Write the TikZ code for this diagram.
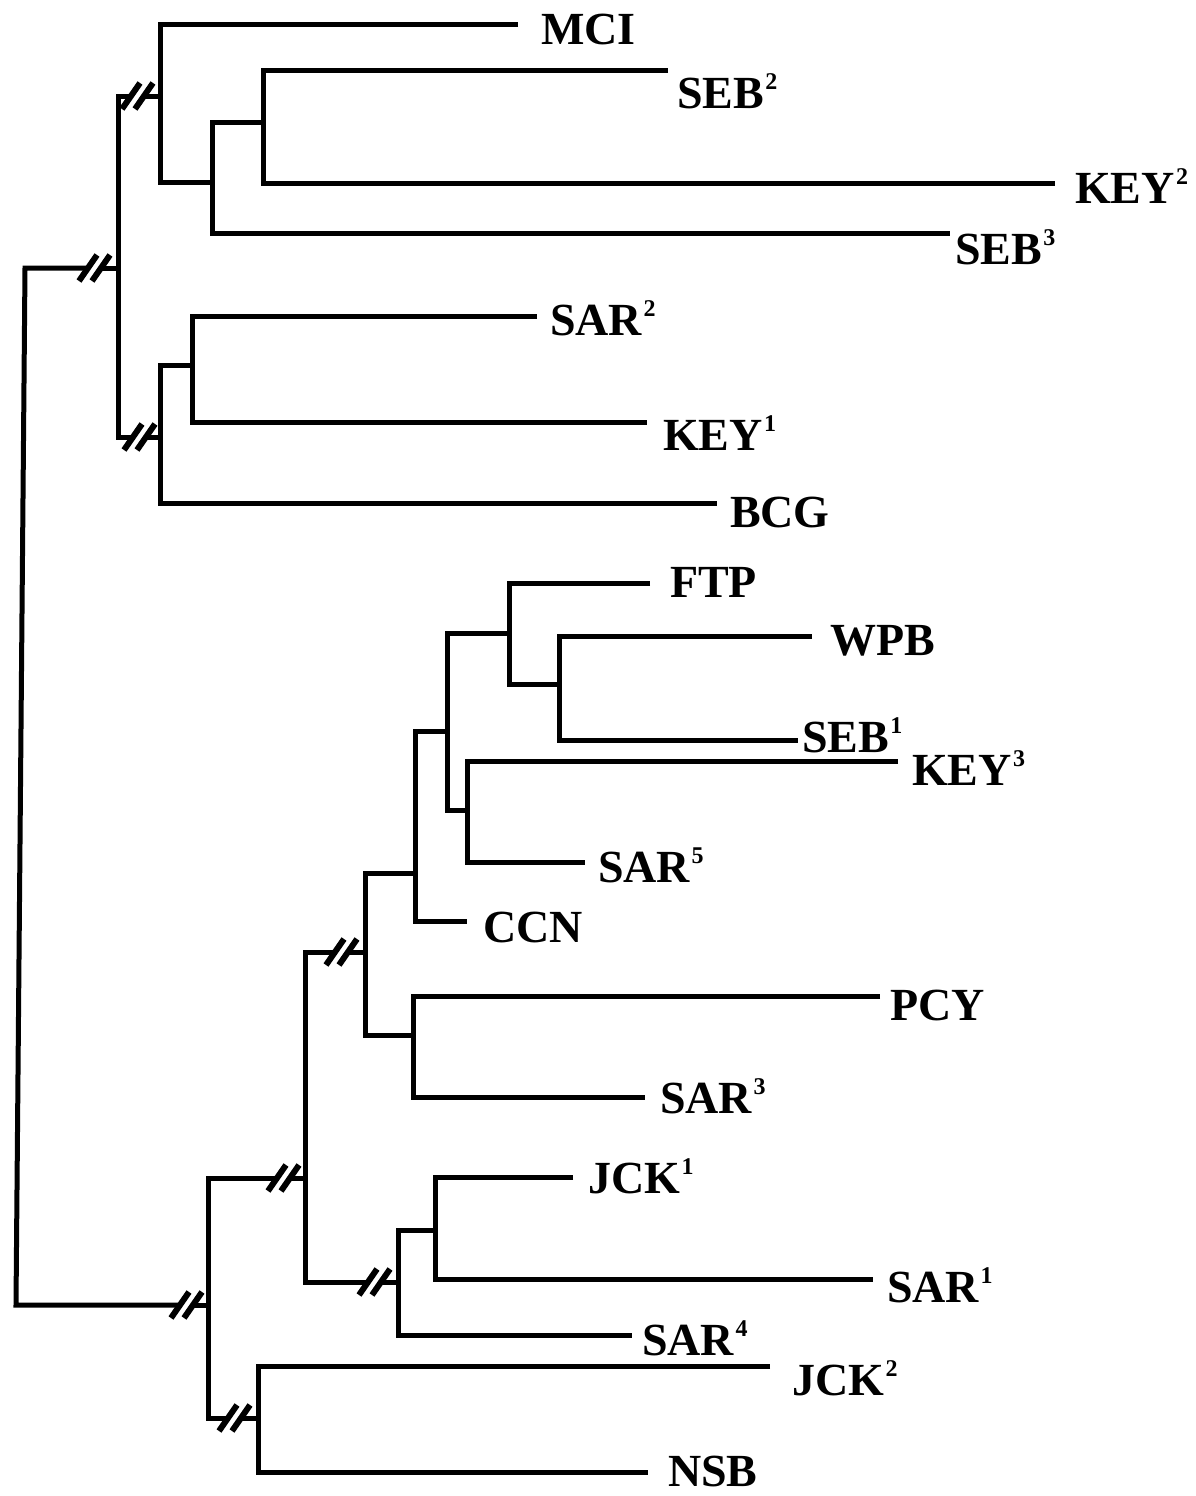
\documentclass[tikz,border=0pt]{standalone}
\usepackage{fontspec}
\setmainfont{Liberation Serif}
\usetikzlibrary{calc}
\newcommand\spx[1]{\hspace{1.5pt}\raisebox{19pt}{\fontsize{24}{24}\selectfont #1}}
\tikzset{
  edge/.style={line width=5pt, line join=miter, line cap=butt},
  brkstroke/.style={line width=6pt, line cap=butt},
  lbl/.style={anchor=base west, inner sep=0pt, outer sep=0pt, font=\bfseries\fontsize{46}{46}\selectfont}
}
\newcommand\brkmark[1]{\draw[brkstroke] ($(#1)+(-9,13)$) -- ($(#1)+(9,-13)$);}
\begin{document}
\begin{tikzpicture}[x=1pt,y=-1pt]
\useasboundingbox (0,0) rectangle (1195,1496);
% ---------- internal node extents ----------
\coordinate (Rt) at (25,268);  \coordinate (Rb) at (16,1305);
\coordinate (A)  at (118,268); \coordinate (At) at (118,96);  \coordinate (Ab) at (118,437);
\coordinate (B)  at (160,96);  \coordinate (Bt) at (160,25);  \coordinate (Bb) at (160,182);
\coordinate (C)  at (212,182); \coordinate (Ct) at (212,122); \coordinate (Cb) at (212,233);
\coordinate (D)  at (263,122); \coordinate (Dt) at (263,71);  \coordinate (Db) at (263,183);
\coordinate (E)  at (160,437); \coordinate (Et) at (160,365); \coordinate (Eb) at (160,503);
\coordinate (F)  at (192,365); \coordinate (Ft) at (192,316); \coordinate (Fb) at (192,422);
\coordinate (G)  at (208,1305); \coordinate (Gt) at (208,1178); \coordinate (Gb) at (208,1418);
\coordinate (H)  at (305,1178); \coordinate (Ht) at (305,952);  \coordinate (Hb) at (305,1282);
\coordinate (I)  at (365,952);  \coordinate (It) at (365,873);  \coordinate (Ib) at (365,1035);
\coordinate (J)  at (415,873);  \coordinate (Jt) at (415,731);  \coordinate (Jb) at (415,921);
\coordinate (K)  at (447,731);  \coordinate (Kt) at (447,633);  \coordinate (Kb) at (447,810);
\coordinate (L)  at (509,633);  \coordinate (Lt) at (509,583);  \coordinate (Lb) at (509,684);
\coordinate (M)  at (559,684);  \coordinate (Mt) at (559,636);  \coordinate (Mb) at (559,740);
\coordinate (N)  at (467,810);  \coordinate (Nt) at (467,761);  \coordinate (Nb) at (467,862);
\coordinate (O)  at (413,1035); \coordinate (Ot) at (413,996);  \coordinate (Ob) at (413,1097);
\coordinate (P)  at (398,1282); \coordinate (Pt) at (398,1230); \coordinate (Pb) at (398,1335);
\coordinate (Q)  at (435,1230); \coordinate (Qt) at (435,1177); \coordinate (Qb) at (435,1279);
\coordinate (S)  at (258,1418); \coordinate (St) at (258,1366); \coordinate (Sb) at (258,1472);
% ---------- leaf ends ----------
\coordinate (eMCI)  at (518,25);
\coordinate (eSEBb) at (668,71);
\coordinate (eKEYb) at (1055,183);
\coordinate (eSEBc) at (950,233);
\coordinate (eSARb) at (537,316);
\coordinate (eKEYa) at (647,422);
\coordinate (eBCG)  at (717,503);
\coordinate (eFTP)  at (650,583);
\coordinate (eWPB)  at (812,636);
\coordinate (eSEBa) at (798,740);
\coordinate (eKEYc) at (898,761);
\coordinate (eSARe) at (585,862);
\coordinate (eCCN)  at (467,921);
\coordinate (ePCY)  at (880,996);
\coordinate (eSARc) at (645,1097);
\coordinate (eJCKa) at (573,1177);
\coordinate (eSARa) at (873,1279);
\coordinate (eSARd) at (632,1335);
\coordinate (eJCKb) at (770,1366);
\coordinate (eNSB)  at (648,1472);
% ---------- break-mark centres ----------
\coordinate (r1a) at (88,268);   \coordinate (r1b) at (101,268);
\coordinate (a1a) at (131,96);   \coordinate (a1b) at (144,96);
\coordinate (a2a) at (133,437);  \coordinate (a2b) at (146,437);
\coordinate (r2a) at (180,1305); \coordinate (r2b) at (193,1305);
\coordinate (g1a) at (277,1178); \coordinate (g1b) at (290,1178);
\coordinate (g2a) at (228,1418); \coordinate (g2b) at (241,1418);
\coordinate (h1a) at (335,952);  \coordinate (h1b) at (348,952);
\coordinate (h2a) at (368,1282); \coordinate (h2b) at (381,1282);
% ---------- tree ----------
\draw[edge] (r1a) -- (Rt) -- (Rb) -- (r2a);
\draw[edge] (r1b) -- (A);  \draw[edge] (r2b) -- (G);
\draw[edge] (a1a) -- (At) -- (Ab) -- (a2a);
\draw[edge] (a1b) -- (B);  \draw[edge] (a2b) -- (E);
\draw[edge] (eMCI) -- (Bt) -- (Bb) -- (C);
\draw[edge] (D) -- (Ct) -- (Cb) -- (eSEBc);
\draw[edge] (eSEBb) -- (Dt) -- (Db) -- (eKEYb);
\draw[edge] (F) -- (Et) -- (Eb) -- (eBCG);
\draw[edge] (eSARb) -- (Ft) -- (Fb) -- (eKEYa);
\draw[edge] (g1a) -- (Gt) -- (Gb) -- (g2a);
\draw[edge] (g1b) -- (H);  \draw[edge] (g2b) -- (S);
\draw[edge] (h1a) -- (Ht) -- (Hb) -- (h2a);
\draw[edge] (h1b) -- (I);  \draw[edge] (h2b) -- (P);
\draw[edge] (J) -- (It) -- (Ib) -- (O);
\draw[edge] (K) -- (Jt) -- (Jb) -- (eCCN);
\draw[edge] (L) -- (Kt) -- (Kb) -- (N);
\draw[edge] (eFTP) -- (Lt) -- (Lb) -- (M);
\draw[edge] (eWPB) -- (Mt) -- (Mb) -- (eSEBa);
\draw[edge] (eKEYc) -- (Nt) -- (Nb) -- (eSARe);
\draw[edge] (ePCY) -- (Ot) -- (Ob) -- (eSARc);
\draw[edge] (Q) -- (Pt) -- (Pb) -- (eSARd);
\draw[edge] (eJCKa) -- (Qt) -- (Qb) -- (eSARa);
\draw[edge] (eJCKb) -- (St) -- (Sb) -- (eNSB);
% ---------- break marks ----------
\brkmark{r1a}\brkmark{r1b}
\brkmark{a1a}\brkmark{a1b}
\brkmark{a2a}\brkmark{a2b}
\brkmark{r2a}\brkmark{r2b}
\brkmark{g1a}\brkmark{g1b}
\brkmark{g2a}\brkmark{g2b}
\brkmark{h1a}\brkmark{h1b}
\brkmark{h2a}\brkmark{h2b}
% ---------- labels ----------
\node[lbl] (tMCI)  at (541,45)   {MCI};
\node[lbl] (tSEBb) at (677,108)  {SEB\spx{2}};
\node[lbl] (tKEYb) at (1075,203) {KEY\spx{2}};
\node[lbl] (tSEBc) at (955,264)  {SEB\spx{3}};
\node[lbl] (tSARb) at (550,335)  {SAR\spx{2}};
\node[lbl] (tKEYa) at (663,450)  {KEY\spx{1}};
\node[lbl] (tBCG)  at (730,527)  {BCG};
\node[lbl] (tFTP)  at (670,597)  {FTP};
\node[lbl] (tWPB)  at (830,655)  {WPB};
\node[lbl] (tSEBa) at (802,752)  {SEB\spx{1}};
\node[lbl] (tKEYc) at (912,785)  {KEY\spx{3}};
\node[lbl] (tSARe) at (598,882)  {SAR\spx{5}};
\node[lbl] (tCCN)  at (483,942)  {CCN};
\node[lbl] (tPCY)  at (890,1020) {PCY};
\node[lbl] (tSARc) at (660,1113) {SAR\spx{3}};
\node[lbl] (tJCKa) at (588,1193) {JCK\spx{1}};
\node[lbl] (tSARa) at (887,1302) {SAR\spx{1}};
\node[lbl] (tSARd) at (642,1355) {SAR\spx{4}};
\node[lbl] (tJCKb) at (792,1395) {JCK\spx{2}};
\node[lbl] (tNSB)  at (668,1486) {NSB};
\end{tikzpicture}
\end{document}
